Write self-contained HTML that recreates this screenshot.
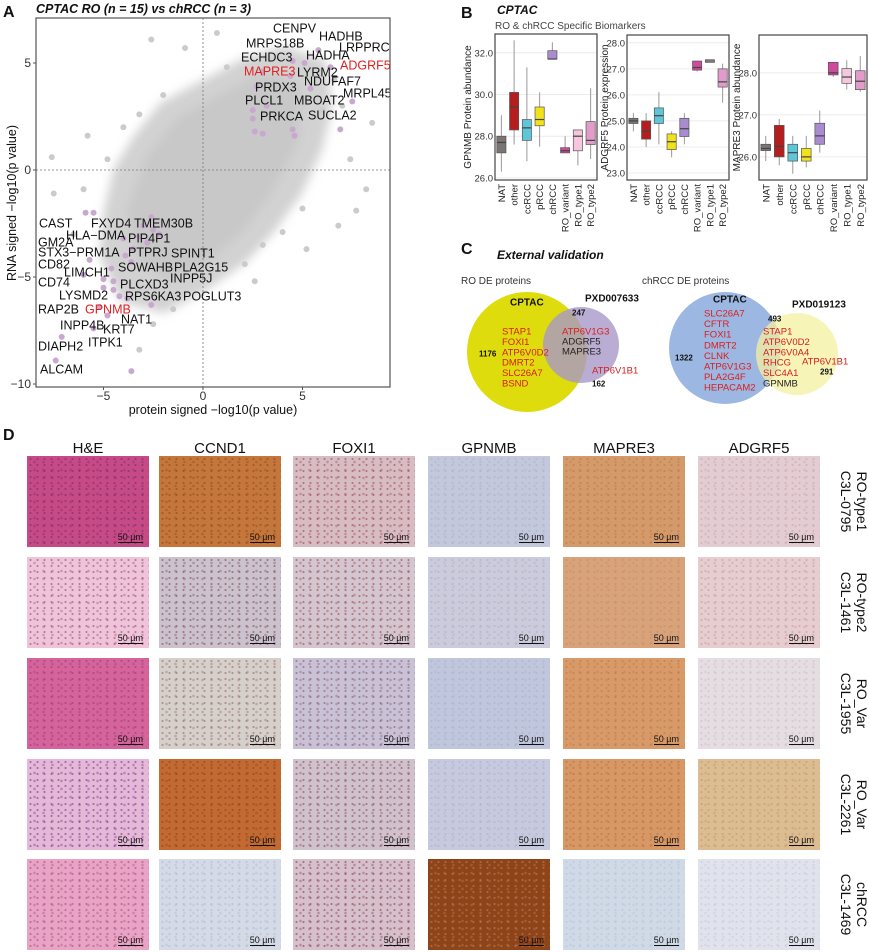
<!DOCTYPE html>
<html><head><meta charset="utf-8">
<style>
html,body{margin:0;padding:0;background:#fff;}
body{width:869px;height:952px;position:relative;overflow:hidden;font-family:"Liberation Sans",Arial,sans-serif;}
svg{position:absolute;left:0;top:0;}
.tile{position:absolute;width:122px;height:91px;overflow:hidden;}
.tile span{position:absolute;right:6px;bottom:4px;font-size:9px;color:#111;border-bottom:1px solid #111;line-height:10px;}
.hdr{position:absolute;top:440px;width:122px;text-align:center;font-size:15px;color:#111;}
.rl{position:absolute;left:836px;width:91px;height:34px;transform-origin:0 0;transform:rotate(90deg) translate(0,-34px);font-size:14px;line-height:16px;text-align:center;color:#111;}
</style></head>
<body>
<svg id="main" width="869" height="952"><defs><filter id="blur" x="-20%" y="-20%" width="140%" height="140%"><feGaussianBlur stdDeviation="5"/></filter><clipPath id="clipA"><rect x="36" y="18" width="354" height="369"/></clipPath></defs></svg>
<div id="tiles"></div>
<div class="hdr" style="left:27px">H&amp;E</div>
<div class="hdr" style="left:159px">CCND1</div>
<div class="hdr" style="left:293px">FOXI1</div>
<div class="hdr" style="left:428px">GPNMB</div>
<div class="hdr" style="left:563px">MAPRE3</div>
<div class="hdr" style="left:698px">ADGRF5</div>
<div class="rl" style="top:456px">RO-type1<br>C3L-0795</div>
<div class="rl" style="top:557px">RO-type2<br>C3L-1461</div>
<div class="rl" style="top:658px">RO_Var<br>C3L-1955</div>
<div class="rl" style="top:759px">RO_Var<br>C3L-2261</div>
<div class="rl" style="top:859px">chRCC<br>C3L-1469</div>
<script>
// ---------- Panel A data ----------
const aCloud = [[-4.0,-6.0],[-5.0,-4.0],[-4.8,-2.0],[-4.3,0.0],[-3.3,1.5],[-2.0,3.0],[0.0,4.0],[2.0,5.0],[4.0,5.6],[6.0,5.0],[6.3,3.0],[5.8,1.0],[4.8,-1.0],[3.4,-2.8],[2.0,-4.2],[0.0,-5.5],[-2.0,-6.5]];
const aCore = [[-3.0,-4.0],[-3.5,-2.0],[-2.5,0.5],[-1.0,2.2],[1.0,3.2],[3.0,4.2],[4.5,3.8],[4.5,1.5],[3.2,-0.8],[1.8,-2.6],[0.0,-4.0],[-1.8,-4.8]];
const aGrey = [[-7.6,0.6],[-7.5,-1.1],[-5.8,1.6],[-6.0,-0.9],[-2.6,6.1],[0.7,6.4],[-0.9,5.7],[8.5,2.2],[8.2,-0.9],[7.7,-1.9],[6.8,-2.6],[5.2,-3.7],[2.1,-4.4],[-3.2,-8.4],[-2.5,-7.2],[4.0,-2.9],[7.4,0.5],[6.0,2.8],[1.2,4.8],[-2.0,3.5],[-4.0,2.0],[3.0,-3.5],[-6.5,-3.0],[-1.5,-6.5],[6.6,4.2],[7.0,3.0],[-4.8,0.5],[-3.2,2.6],[5.0,-1.8],[2.6,-5.2]];
const aPurple = [[5.8,5.6],[5.1,5.0],[4.5,5.1],[6.4,4.8],[2.7,3.9],[3.0,4.6],[4.4,4.4],[5.4,3.8],[7.5,3.2],[2.5,2.8],[3.2,3.0],[2.5,2.4],[2.6,1.8],[3.0,1.7],[4.5,1.9],[4.6,1.6],[6.9,1.9],[-3.0,-2.6],[-2.6,-2.2],[-2.5,-2.8],[-3.2,-3.1],[-2.8,-3.4],[-3.5,-3.7],[-2.2,-3.0],[-3.9,-4.0],[-4.6,-4.6],[-5.7,-4.2],[-5.5,-2.0],[-5.9,-2.0],[-6.0,-4.9],[-5.0,-5.1],[-4.5,-5.2],[-5.0,-5.5],[-4.5,-5.6],[-4.2,-5.9],[-3.8,-6.0],[-5.2,-6.4],[-4.8,-6.8],[-5.5,-7.4],[-7.1,-7.8],[-7.4,-8.9],[-3.6,-9.4],[-2.6,-6.3],[-4.0,-3.2],[-3.6,-4.3]];
const aLabels = [["CENPV",273,28,0],["HADHB",319,36,0],["MRPS18B",246,43,0],["LRPPRC",339,47,0],["HADHA",306,55,0],["ECHDC3",241,57,0],["ADGRF5",340,65,1],["MAPRE3",244,71,1],["LYRM2",297,72,0],["NDUFAF7",304,81,0],["PRDX3",255,87,0],["MRPL45",343,93,0],["PLCL1",245,100,0],["MBOAT2",294,100,0],["PRKCA",260,116,0],["SUCLA2",308,115,0],["CAST",39,223,0],["FXYD4",91,223,0],["TMEM30B",134,223,0],["HLA\u2212DMA",66,235,0],["GM2A",38,242,0],["PIP4P1",128,238,0],["STX3\u2212PRM1A",38,252,0],["PTPRJ",128,252,0],["SPINT1",171,253,0],["CD82",38,264,0],["SOWAHB",118,267,0],["PLA2G15",174,267,0],["LIMCH1",64,272,0],["CD74",38,282,0],["INPP5J",170,278,0],["PLCXD3",120,284,0],["LYSMD2",59,295,0],["RPS6KA3",125,296,0],["POGLUT3",183,296,0],["RAP2B",38,309,0],["GPNMB",85,309,1],["NAT1",121,319,0],["INPP4B",60,325,0],["KRT7",103,329,0],["ITPK1",88,342,0],["DIAPH2",38,346,0],["ALCAM",40,369,0]];
const aXTicks = [-5,0,5];
const aYTicks = [5,0,-5,-10];

// ---------- Panel B data ----------
const bCats = ["NAT","other","ccRCC","pRCC","chRCC","RO_variant","RO_type1","RO_type2"];
const bColors = ["#7a7474","#b41e1e","#5ec6d8","#f2e21a","#a98bd0","#cf4a9c","#f6c6de","#e29ccb"];
const gpnmbStats = [[26.3,27.2,27.7,28.0,29.0],[27.6,28.3,29.4,30.1,32.6],[26.8,27.8,28.4,28.8,31.3],[27.5,28.5,28.8,29.4,30.1],[31.7,31.7,31.7,32.1,32.5],[27.2,27.2,27.3,27.45,28.0],[26.6,27.3,28.0,28.3,28.3],[26.9,27.6,27.8,28.7,30.3]];
const adgrf5Stats = [[24.6,24.9,25.0,25.1,25.3],[24.0,24.3,24.6,25.0,25.3],[24.1,24.9,25.2,25.5,26.1],[23.6,23.9,24.2,24.5,24.6],[24.1,24.4,24.7,25.1,25.3],[26.9,26.95,27.05,27.3,27.3],[27.25,27.25,27.3,27.35,27.35],[25.7,26.3,26.5,27.0,27.2]];
const mapre3Stats = [[25.9,26.15,26.2,26.3,26.5],[25.8,26.0,26.25,26.75,26.9],[25.6,25.9,26.1,26.3,26.5],[25.75,25.9,26.0,26.2,26.5],[26.1,26.3,26.5,26.8,27.1],[27.9,27.95,28.0,28.25,28.25],[27.6,27.75,27.9,28.1,28.3],[27.55,27.6,27.8,28.05,28.4]];
const gpnmbTicks = [26,28,30,32];
const adgrf5Ticks = [23,24,25,26,27,28];
const mapre3Ticks = [26,27,28];

const NS="http://www.w3.org/2000/svg";
const svg=document.getElementById('main');
function mk(tag,attrs,parent){const e=document.createElementNS(NS,tag);for(const k in attrs)e.setAttribute(k,attrs[k]);(parent||svg).appendChild(e);return e;}
function txt(s,attrs,parent){const e=mk('text',attrs,parent);e.textContent=s;return e;}

// ---------- Panel A ----------
const A={x0:36,x1:390,y0:18,y1:387};
const ax=v=>203+v*19.9, ay=v=>170-v*21.4;
const gA=mk('g',{'clip-path':'url(#clipA)'});


txt('A',{x:3,y:17,'font-size':16,'font-weight':'bold',fill:'#111'});
txt('CPTAC RO (n = 15) vs chRCC (n = 3)',{x:36,y:13,'font-size':12.5,'font-weight':'bold','font-style':'italic',fill:'#111'});
const cl=mk('path',{d:'M'+aCloud.map(p=>ax(p[0])+','+ay(p[1])).join('L')+'Z',fill:'#d2d2d2',stroke:'#d2d2d2','stroke-width':8,'stroke-linejoin':'round',filter:'url(#blur)'},gA);


const core=mk('path',{d:'M'+aCore.map(p=>ax(p[0])+','+ay(p[1])).join('L')+'Z',fill:'#c8c8c8',stroke:'#c8c8c8','stroke-width':14,'stroke-linejoin':'round',filter:'url(#blur)'},gA);


aGrey.forEach(p=>{const c=mk('circle',{cx:ax(p[0]),cy:ay(p[1]),r:3,fill:'#cbcbcb'},gA);

});
mk('line',{x1:ax(0),x2:ax(0),y1:A.y0,y2:A.y1,stroke:'#777','stroke-dasharray':'2,2','stroke-width':0.8},gA);
mk('line',{x1:A.x0,x2:A.x1,y1:ay(0),y2:ay(0),stroke:'#777','stroke-dasharray':'2,2','stroke-width':0.8},gA);
aPurple.forEach(p=>{const c=mk('circle',{cx:ax(p[0]),cy:ay(p[1]),r:3,fill:'#c9a8cf'},gA);

});
aLabels.forEach(l=>{const t=txt(l[0],{x:l[1],y:l[2]+4.5,'font-size':12.5,fill:l[3]?'#e02020':'#111'},gA);

});
mk('rect',{x:A.x0,y:A.y0,width:A.x1-A.x0,height:A.y1-A.y0,fill:'none',stroke:'#555','stroke-width':1.2});
aXTicks.forEach(v=>{mk('line',{x1:ax(v),x2:ax(v),y1:A.y1,y2:A.y1+3,stroke:'#555'});const t=txt(v<0?'\u2212'+(-v):''+v,{x:ax(v),y:400,'font-size':12,'text-anchor':'middle',fill:'#333'});

});
aYTicks.forEach(v=>{mk('line',{x1:A.x0-3,x2:A.x0,y1:ay(v),y2:ay(v),stroke:'#555'});const t=txt(v<0?'\u2212'+(-v):''+v,{x:A.x0-5,y:ay(v)+4,'font-size':12,'text-anchor':'end',fill:'#333'});

});
txt('protein signed \u2212log10(p value)',{x:213,y:414,'font-size':12.5,'text-anchor':'middle',fill:'#111',});
txt('RNA signed \u2212log10(p value)',{x:0,y:0,'font-size':12.5,'text-anchor':'middle',fill:'#111',transform:'translate(16,203) rotate(-90)',});

// ---------- Panel B ----------
txt('B',{x:461,y:18,'font-size':16,'font-weight':'bold',fill:'#111'});
txt('CPTAC',{x:497,y:14,'font-size':12,'font-weight':'bold','font-style':'italic',fill:'#111'});
txt('RO & chRCC Specific Biomarkers',{x:495,y:29,'font-size':10,fill:'#444'});
function boxplot(name,x0,x1,y0,y1,vTop,vBot,stats,ticks,title,titleX){
  const g=mk('g',{});
  
  
  const sy=v=>y0+(vTop-v)/(vTop-vBot)*(y1-y0);
  const step=(x1-x0)/8, sx=i=>x0+step*(i+0.5);
  ticks.forEach(v=>{mk('line',{x1:x0,x2:x1,y1:sy(v),y2:sy(v),stroke:'#ececec'},g);
    const t=txt(v.toFixed(1),{x:x0-2,y:sy(v)+3.5,'font-size':9.5,'text-anchor':'end',fill:'#333'},g);
    
    });
  stats.forEach((s,i)=>{const cx=sx(i),w=step*0.72;
    mk('line',{x1:cx,x2:cx,y1:sy(s[0]),y2:sy(s[4]),stroke:'#999','stroke-width':1},g);
    const b=mk('rect',{x:cx-w/2,y:sy(s[3]),width:w,height:Math.max(1.5,sy(s[1])-sy(s[3])),fill:bColors[i],stroke:'#555','stroke-width':0.7},g);
    
    
    mk('line',{x1:cx-w/2,x2:cx+w/2,y1:sy(s[2]),y2:sy(s[2]),stroke:'#444','stroke-width':1.2},g);
    const t=txt(bCats[i],{x:0,y:0,'font-size':9.5,'text-anchor':'end',fill:'#222',transform:`translate(${cx+3.5},${y1+4}) rotate(-90)`},g);
    
    });
  mk('rect',{x:x0,y:y0,width:x1-x0,height:y1-y0,fill:'none',stroke:'#444','stroke-width':1.2},g);
  txt(title,{x:0,y:0,'font-size':10,'text-anchor':'middle',fill:'#222',transform:`translate(${titleX},${(y0+y1)/2}) rotate(-90)`},g);
}
boxplot('gpnmb-boxplot',495,597,34,180,32.9,25.9,gpnmbStats,gpnmbTicks,'GPNMB Protein abundance',471);
boxplot('adgrf5-boxplot',627,729,35,180,28.3,22.73,adgrf5Stats,adgrf5Ticks,'ADGRF5 Protein expression',608);
boxplot('mapre3-boxplot',759,867,35,180,28.9,25.45,mapre3Stats,mapre3Ticks,'MAPRE3 Protein abundance',740);

// ---------- Panel C ----------
txt('C',{x:461,y:254,'font-size':16,'font-weight':'bold',fill:'#111'});
txt('External validation',{x:497,y:259,'font-size':12,'font-weight':'bold','font-style':'italic',fill:'#111'});
txt('RO DE proteins',{x:461,y:284,'font-size':10,fill:'#333'});
txt('chRCC DE proteins',{x:642,y:284,'font-size':10,fill:'#333'});
mk('circle',{cx:527,cy:352,r:60,fill:'#dedc0c',});
mk('circle',{cx:581,cy:345,r:38,fill:'#a898c8','fill-opacity':0.8,});
mk('circle',{cx:725,cy:348,r:56,fill:'#9cb8e2',});
mk('circle',{cx:797,cy:354,r:41,fill:'#f4f0a0','fill-opacity':0.75,});
const vt=(s,x,y,c,b,sz)=>txt(s,{x:x,y:y+3.5,'font-size':sz||9.5,fill:c,'font-weight':b?'bold':'normal'});
vt('CPTAC',510,302,'#111',1,10);vt('PXD007633',585,298,'#111',1,10);vt('247',572,312,'#111',1,8);
['STAP1','FOXI1','ATP6V0D2','DMRT2','SLC26A7','BSND'].forEach((s,i)=>vt(s,502,331+i*10.4,'#d81e1e'));
vt('1176',479,353,'#111',1,8);
vt('ATP6V1G3',562,331,'#d81e1e');vt('ADGRF5',562,341,'#222');vt('MAPRE3',562,351,'#222');
vt('ATP6V1B1',592,370,'#d81e1e');vt('162',592,383,'#111',1,8);
vt('CPTAC',713,299,'#111',1,10);vt('PXD019123',792,304,'#111',1,10);vt('493',768,318,'#111',1,8);
['SLC26A7','CFTR','FOXI1','DMRT2','CLNK','ATP6V1G3','PLA2G4F','HEPACAM2'].forEach((s,i)=>vt(s,704,313+i*10.6,'#d81e1e'));
['STAP1','ATP6V0D2','ATP6V0A4','RHCG','SLC4A1'].forEach((s,i)=>vt(s,763,331+i*10.4,'#d81e1e'));
vt('GPNMB',763,383,'#222');vt('ATP6V1B1',802,361,'#d81e1e');vt('1322',675,357,'#111',1,8);vt('291',820,371,'#111',1,8);

// ---------- Panel D ----------
txt('D',{x:3,y:440,'font-size':16,'font-weight':'bold',fill:'#111'});
const colX=[27,159,293,428,563,698], rowY=[456,557,658,759,859];
const cols=['he','ccnd1','foxi1','gpnmb','mapre3','adgrf5'];
const tileBg=[
 ['#c64a86','#c5763a','#d8bcc4','#c3c8dc','#d59a6a','#e3cdd2'],
 ['#efc4d8','#cac3cf','#d3c6d0','#cbcbdb','#d8a27a','#e6cdd0'],
 ['#d4649a','#d6d0cc','#c9c2d6','#c0c6dc','#d89a68','#e4dde2'],
 ['#e4b8d6','#c26a32','#cfc2cc','#c7cade','#d79866','#dcbc92'],
 ['#e7a4c4','#d4dae6','#d6c0cc','#8e4418','#d0d9e6','#e0e2ec']];
const dotC=[['#7a2a6a','#8a4a20','#9a4a4a','#a8b0cc','#b87a4a','#c8a4a8'],['#9a4a80','#8a4a4a','#9a4a4a','#a8aec8','#c88a60','#c89a9a'],['#9a3a80','#9a6a5a','#8a5a6a','#a8b0cc','#b87a4a','#d0bcc4'],['#7a3a90','#8a4020','#8a4a5a','#a8b0cc','#b87040','#c09a60'],['#b04a80','#b0b8d0','#8a4050','#b88060','#b4c2d8','#c4c8d8']];
const tiles=document.getElementById('tiles');
rowY.forEach((y,r)=>colX.forEach((x,c)=>{
  const d=document.createElement('div');d.className='tile';
  
  
  d.style.left=x+'px';d.style.top=y+'px';
  d.style.background=`radial-gradient(circle, ${dotC[r][c]}99 0.8px, transparent 1.3px) 0 0/7px 6px, radial-gradient(circle, ${dotC[r][c]}66 1px, transparent 1.6px) 3px 2px/9px 8px, ${tileBg[r][c]}`;
  const s=document.createElement('span');s.textContent='50 \u00b5m';
  
  
  d.appendChild(s);tiles.appendChild(d);
}));
</script>
</body></html>
